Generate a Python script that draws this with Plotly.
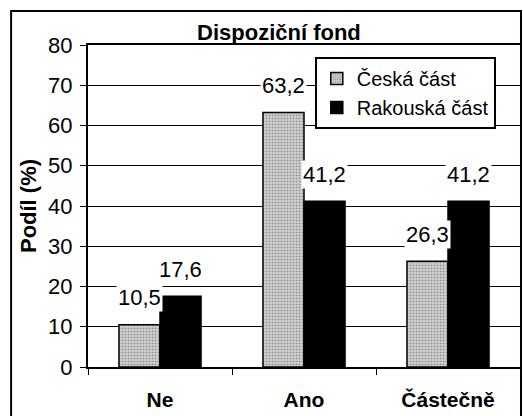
import plotly.graph_objects as go

categories = ["Ne", "Ano", "Částečně"]
series_names = ["Česká část", "Rakouská část"]
ceska = [10.5, 63.2, 26.3]
rakouska = [17.6, 41.2, 41.2]
y_ticks = [0, 10, 20, 30, 40, 50, 60, 70, 80]

FONT = "Liberation Sans, Arial, sans-serif"
BARGAP = 0.43

fig = go.Figure()
fig.add_trace(go.Bar(
    x=categories, y=ceska, name=series_names[0],
    marker=dict(color="#cfcfcf", line=dict(color="black", width=1.5),
                pattern=dict(shape=".", fgcolor="#555555", bgcolor="#d4d4d4",
                             size=3, solidity=0.4)),
))
fig.add_trace(go.Bar(
    x=categories, y=rakouska, name=series_names[1],
    marker=dict(color="black", line=dict(color="black", width=1.5)),
))

off = (1 - BARGAP) / 4
for s, vals in enumerate([ceska, rakouska]):
    for i, v in enumerate(vals):
        fig.add_annotation(
            x=i + (-off if s == 0 else off), y=v, xref="x", yref="y",
            text=f"{v:.1f}".replace(".", ","), showarrow=False,
            yshift=27, bgcolor="white", borderpad=1,
            font=dict(family=FONT, size=22, color="black"),
        )

fig.add_shape(type="rect", xref="paper", yref="paper",
              x0=-0.178, x1=1.0023, y0=-0.16, y1=1.1056,
              line=dict(color="black", width=2), layer="below")

fig.update_layout(
    width=523, height=416,
    margin=dict(l=88, r=3, t=45, b=49, autoexpand=False),
    paper_bgcolor="white", plot_bgcolor="white",
    barmode="group", bargap=BARGAP, bargroupgap=0,
    title=dict(text="<b>Dispoziční fond</b>", x=0.442, xref="paper", xanchor="center",
               y=1.0, yref="paper", yanchor="bottom", pad=dict(b=5),
               font=dict(family=FONT, size=22, color="black")),
    legend=dict(x=0.525, y=0.963, xanchor="left", yanchor="top",
                bgcolor="white", bordercolor="black", borderwidth=2,
                font=dict(family=FONT, size=20, color="black"),
                itemwidth=30, tracegroupgap=0),
    font=dict(family=FONT, color="black"),
)
fig.update_xaxes(
    showline=True, linecolor="black", linewidth=2, mirror=True,
    ticks="outside", tickson="boundaries", ticklen=6, tickcolor="black",
    tickfont=dict(family=FONT, size=21, color="black", weight="bold"),
    ticklabelstandoff=13,
    showgrid=False, automargin=False,
)
fig.update_yaxes(
    range=[0, 80], tickvals=y_ticks, showline=True, linecolor="black", linewidth=2,
    mirror=True, ticks="outside", ticklen=6, tickcolor="black",
    showgrid=True, gridcolor="black", gridwidth=1,
    tickfont=dict(family=FONT, size=22, color="black"),
    ticklabelstandoff=3, automargin=False,
    title=dict(text="<b>Podíl (%)</b>", standoff=5,
               font=dict(family=FONT, size=22, color="black")),
)

fig.write_html("out.html", config={"displayModeBar": False},
               post_script="document.body.style.margin='0';document.body.style.overflow='hidden';")
